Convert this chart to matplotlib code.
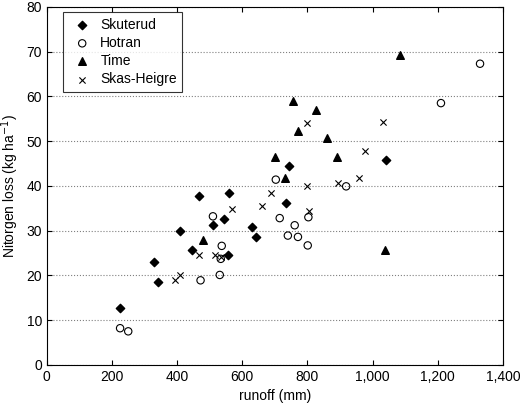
import matplotlib
matplotlib.use('Agg')
import matplotlib.pyplot as plt
from matplotlib.ticker import FuncFormatter

plt.rcParams['font.family'] = ['Liberation Sans', 'DejaVu Sans']

# runoff (mm), nitrogen loss (kg/ha)
skuterud_x = [225, 330, 340, 410, 446, 466, 511, 543, 556, 560, 629, 641, 735, 743, 1040]
skuterud_y = [12.8, 23, 18.5, 30, 25.7, 37.8, 31.2, 32.7, 24.6, 38.5, 30.9, 28.5, 36.2, 44.5, 45.7]

hotran_x = [225, 250, 472, 510, 531, 534, 537, 703, 715, 740, 761, 771, 801, 803, 919, 1210, 1330]
hotran_y = [8.2, 7.5, 18.9, 33.2, 20.1, 23.7, 26.6, 41.4, 32.8, 28.9, 31.2, 28.6, 26.7, 33, 39.9, 58.5, 67.3]

time_x = [480, 702, 730, 755, 770, 825, 860, 892, 1037, 1084]
time_y = [27.8, 46.5, 41.8, 59, 52.2, 57, 50.8, 46.5, 25.6, 69.2]

skas_x = [395, 410, 466, 516, 534, 569, 662, 687, 800, 800, 805, 894, 957, 977, 1033]
skas_y = [19, 20, 24.5, 24.6, 24, 34.8, 35.6, 38.5, 40, 54, 34.4, 40.6, 41.8, 47.7, 54.2]

fig = plt.figure(figsize=(5.2, 4.05), dpi=100)
ax = fig.add_axes([0.09, 0.099, 0.877, 0.884])

ax.scatter(skuterud_x, skuterud_y, marker='D', s=18, c='black', label='Skuterud', zorder=3)
ax.scatter(hotran_x, hotran_y, marker='o', s=28, facecolors='none', edgecolors='black',
           linewidths=0.8, label='Hotran', zorder=3)
ax.scatter(time_x, time_y, marker='^', s=30, c='black', label='Time', zorder=3)
ax.scatter(skas_x, skas_y, marker='x', s=20, c='black', linewidths=0.8, label='Skas-Heigre', zorder=3)

ax.set_xlim(0, 1400)
ax.set_ylim(0, 80)
ax.set_xticks(range(0, 1401, 200))
ax.set_yticks(range(0, 81, 10))
ax.xaxis.set_major_formatter(FuncFormatter(lambda v, p: f'{int(v):,}'))
ax.yaxis.grid(True, linestyle=':', color='gray', linewidth=0.8)
ax.tick_params(direction='in', labelsize=10, top=True, right=True)
ax.set_xlabel('runoff (mm)', fontsize=10)
ax.set_ylabel('Nitorgen loss (kg ha$^{-1}$)', fontsize=10)

leg = ax.legend(loc='upper left', fontsize=10, frameon=True, fancybox=False,
                edgecolor='black', bbox_to_anchor=(0.035, 0.985), borderaxespad=0,
                handletextpad=0.3, labelspacing=0.3)
leg.get_frame().set_linewidth(0.8)

fig.savefig('out.png', dpi=100)
